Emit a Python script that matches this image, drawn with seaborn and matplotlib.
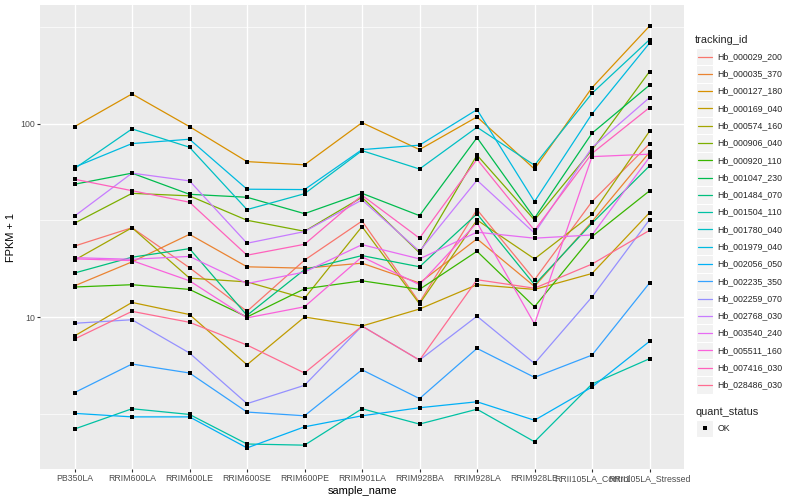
import numpy as np
import pandas as pd
import seaborn as sns
import matplotlib
matplotlib.use("Agg")
import matplotlib.pyplot as plt
from matplotlib.patches import Rectangle
from matplotlib.ticker import FixedLocator, NullFormatter

samples = ["PB350LA", "RRIM600LA", "RRIM600LE", "RRIM600SE", "RRIM600PE", "RRIM901LA",
           "RRIM928BA", "RRIM928LA", "RRIM928LE", "RRII105LA_Control", "RRII105LA_Stressed"]

tracking_ids = ["Hb_000029_200", "Hb_000035_370", "Hb_000127_180", "Hb_000169_040",
                "Hb_000574_160", "Hb_000906_040", "Hb_000920_110", "Hb_001047_230",
                "Hb_001484_070", "Hb_001504_110", "Hb_001780_040", "Hb_001979_040",
                "Hb_002056_050", "Hb_002235_350", "Hb_002259_070", "Hb_002768_030",
                "Hb_003540_240", "Hb_005511_160", "Hb_007416_030", "Hb_028486_030"]

# ggplot default hue palette, 20 levels
colors = ["#F8766D", "#EA8331", "#D89000", "#C09B00", "#A3A500", "#7CAE00", "#39B600",
          "#00BB4E", "#00BF7D", "#00C1A3", "#00BFC4", "#00BAE0", "#00B0F6", "#35A2FF",
          "#9590FF", "#C77CFF", "#E76BF3", "#FA62DB", "#FF62BC", "#FF6C91"]

# FPKM + 1, one value per sample
hb_000029_200 = [23.3, 29.0, 18.0, 10.7, 19.7, 31.4, 11.9, 36.0, 15.6, 39.6, 78.8]
hb_000035_370 = [14.5, 19.3, 26.8, 18.2, 17.9, 19.0, 15.0, 25.4, 14.4, 31.2, 71.3]
hb_000127_180 = [96.8, 143.0, 96.8, 63.8, 61.4, 101.5, 73.6, 108.7, 58.4, 154.0, 321.0]
hb_000169_040 = [7.98, 11.9, 10.3, 5.66, 10.0, 8.98, 11.0, 14.7, 13.9, 16.8, 34.7]
hb_000574_160 = [19.7, 29.0, 15.9, 15.2, 12.5, 29.4, 11.7, 31.8, 20.0, 34.0, 91.6]
hb_000906_040 = [30.6, 43.7, 42.4, 31.7, 27.8, 41.7, 21.5, 68.9, 31.8, 73.3, 186.6]
hb_000920_110 = [14.3, 14.7, 13.9, 10.0, 14.0, 15.4, 13.9, 21.9, 11.3, 26.1, 45.0]
hb_001047_230 = [48.7, 55.6, 43.2, 41.7, 34.3, 43.7, 33.5, 84.9, 32.5, 89.5, 158.7]
hb_001484_070 = [16.9, 20.4, 22.6, 10.2, 17.6, 20.8, 18.2, 34.2, 14.7, 30.6, 60.6]
hb_001504_110 = [2.63, 3.35, 3.13, 2.20, 2.17, 3.35, 2.79, 3.33, 2.26, 4.50, 6.08]
hb_001780_040 = [58.7, 94.2, 75.7, 36.0, 43.5, 72.7, 58.4, 96.1, 61.1, 144.0, 273.0]
hb_001979_040 = [59.7, 79.1, 83.3, 45.9, 45.7, 73.6, 77.6, 118.6, 39.6, 112.7, 262.0]
hb_002056_050 = [3.17, 3.04, 3.04, 2.10, 2.70, 3.08, 3.39, 3.64, 2.92, 4.34, 7.48]
hb_002235_350 = [4.06, 5.71, 5.13, 3.22, 3.08, 5.33, 3.78, 6.88, 4.87, 6.35, 15.0]
hb_002259_070 = [9.28, 9.68, 6.51, 3.56, 4.43, 8.98, 5.98, 10.1, 5.75, 12.7, 31.9]
hb_002768_030 = [33.3, 55.6, 50.7, 24.1, 27.7, 40.4, 21.9, 51.1, 27.2, 75.4, 136.8]
hb_003540_240 = [20.3, 19.9, 20.6, 14.9, 17.1, 23.7, 20.0, 27.5, 25.6, 26.6, 67.2]
hb_005511_160 = [20.0, 19.6, 15.4, 9.9, 11.3, 20.5, 14.7, 30.8, 9.2, 67.7, 69.7]
hb_007416_030 = [51.7, 45.1, 39.3, 20.9, 23.8, 42.7, 25.6, 65.6, 28.1, 70.3, 121.5]
hb_028486_030 = [7.69, 10.7, 9.39, 7.16, 5.13, 8.98, 5.98, 15.6, 14.1, 18.8, 28.1]

series = [hb_000029_200, hb_000035_370, hb_000127_180, hb_000169_040, hb_000574_160,
          hb_000906_040, hb_000920_110, hb_001047_230, hb_001484_070, hb_001504_110,
          hb_001780_040, hb_001979_040, hb_002056_050, hb_002235_350, hb_002259_070,
          hb_002768_030, hb_003540_240, hb_005511_160, hb_007416_030, hb_028486_030]

df = pd.DataFrame({
  "tracking_id": np.repeat(tracking_ids, len(samples)),
  "sample_name": samples * len(tracking_ids),
  "fpkm": np.concatenate(series),
})

sns.set_theme(style="darkgrid")
plt.rcParams["font.family"] = ["Liberation Sans", "DejaVu Sans"]

fig = plt.figure(figsize=(8, 5), dpi=100)
ax = fig.add_axes([40 / 800, 1 - 469 / 500, 644 / 800, 464 / 500])
ax.set_facecolor("#EBEBEB")

sns.lineplot(data=df, x="sample_name", y="fpkm", hue="tracking_id", hue_order=tracking_ids,
  palette=colors, linewidth=0.9, legend=False, sort=False, estimator=None, ax=ax)
sns.scatterplot(data=df, x="sample_name", y="fpkm", color="black", marker="s", s=9,
  linewidth=0, legend=False, ax=ax, zorder=5)

ax.set_yscale("log")
lo, hi = np.log10(df.fpkm.min()), np.log10(df.fpkm.max())
pad = 0.05 * (hi - lo)
ax.set_ylim(10 ** (lo - pad), 10 ** (hi + pad))
ax.set_xlim(-0.6, len(samples) - 0.4)

ax.yaxis.set_major_locator(FixedLocator([10, 100]))
ax.set_yticklabels(["10", "100"])
ax.yaxis.set_minor_locator(FixedLocator([10 ** 0.5, 10 ** 1.5, 10 ** 2.5]))
ax.yaxis.set_minor_formatter(NullFormatter())

ax.grid(which="major", color="white", linewidth=1.0)
ax.grid(which="minor", axis="y", color="white", linewidth=0.5)
ax.set_axisbelow(True)
for s in ax.spines.values():
  s.set_visible(False)

ax.tick_params(which="major", length=2, width=0.8, color="#333333", labelsize=6.3,
  labelcolor="#4D4D4D", pad=1.6, bottom=True, left=True)
ax.tick_params(which="minor", length=0)

ax.set_xlabel("sample_name", fontsize=7.9, color="black", labelpad=2)
ax.set_ylabel("FPKM + 1", fontsize=7.9, color="black", labelpad=3)

# legend drawn in pixel coordinates
lg = fig.add_axes([0, 0, 1, 1])
lg.set_xlim(0, 800)
lg.set_ylim(500, 0)
lg.axis("off")
lg.patch.set_alpha(0)

key = 17.28
kx = 696
ky = 48
lg.text(kx - 1, ky - 8, "tracking_id", fontsize=7.9, va="center", ha="left")
for i, (tid, c) in enumerate(zip(tracking_ids, colors)):
  y0 = ky + i * key
  lg.add_patch(Rectangle((kx, y0), key, key, facecolor="#F2F2F2", edgecolor="white", linewidth=0.8))
  lg.plot([kx + 1.7, kx + key - 1.7], [y0 + key / 2, y0 + key / 2], color=c, linewidth=0.9)
  lg.text(kx + key + 4, y0 + key / 2, tid, fontsize=6.3, va="center", ha="left")

qy = ky + len(tracking_ids) * key + 26
lg.text(kx - 1, qy - 8, "quant_status", fontsize=7.9, va="center", ha="left")
lg.add_patch(Rectangle((kx, qy), key, key, facecolor="#F2F2F2", edgecolor="white", linewidth=0.8))
lg.scatter([kx + key / 2], [qy + key / 2], marker="s", s=9, color="black", linewidth=0)
lg.text(kx + key + 4, qy + key / 2, "OK", fontsize=6.3, va="center", ha="left")

plt.savefig("out.png", dpi=100)
